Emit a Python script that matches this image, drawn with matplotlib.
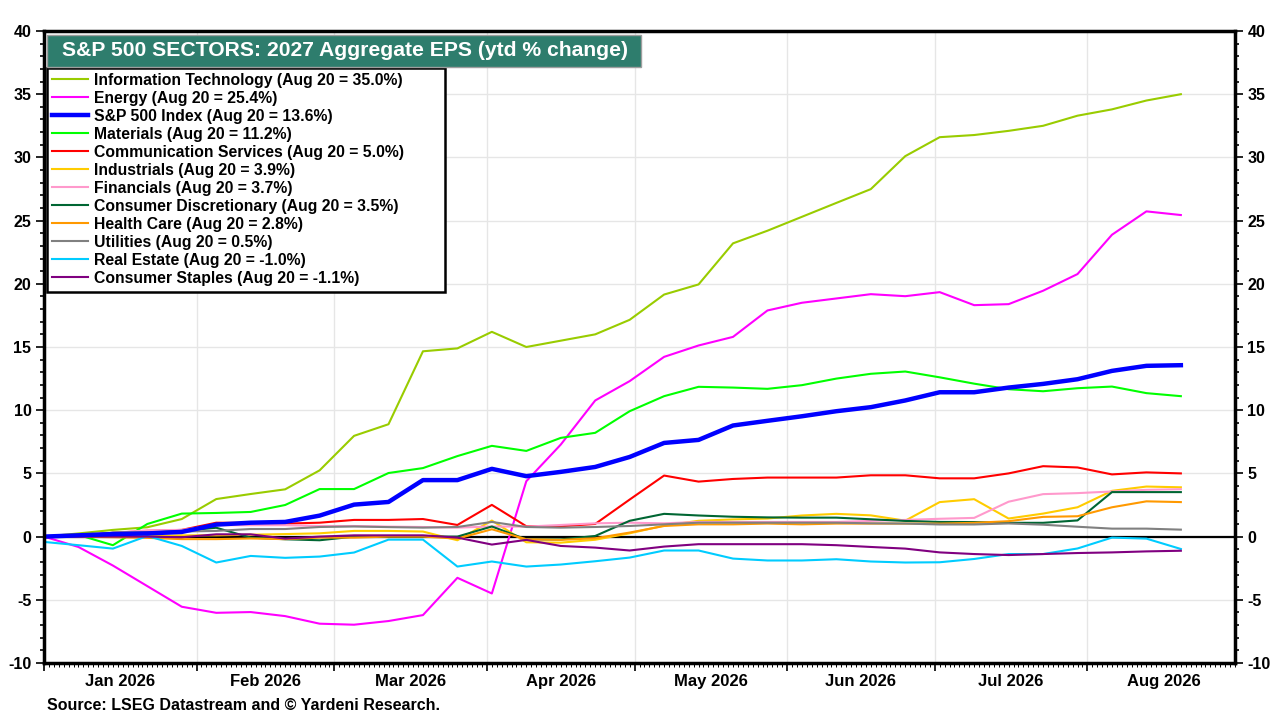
import matplotlib
matplotlib.use("Agg")
import matplotlib.pyplot as plt
import matplotlib.dates as mdates
import matplotlib.transforms as mtransforms
from matplotlib.patches import Rectangle
import pandas as pd

plt.rcParams['font.family'] = ['Liberation Sans', 'DejaVu Sans']
plt.rcParams['font.weight'] = 'bold'
plt.rcParams['axes.unicode_minus'] = False

dates = pd.date_range('2026-01-01', periods=34, freq='7D')

info_tech = [0, 0.25, 0.53, 0.74, 1.39, 2.97, 3.37, 3.74, 5.24, 7.97, 8.89, 14.66, 14.89, 16.2, 15.0,
             15.5, 16.0, 17.15, 19.15, 19.95, 23.2, 24.2, 25.3, 26.4, 27.49, 30.1, 31.6, 31.77, 32.1,
             32.5, 33.3, 33.8, 34.5, 35.0]
energy = [0, -0.82, -2.29, -3.92, -5.55, -6.03, -5.97, -6.29, -6.89, -6.97, -6.68, -6.21, -3.26, -4.5,
          4.38, 7.28, 10.77, 12.3, 14.22, 15.12, 15.8, 17.89, 18.5, 18.84, 19.18, 19.02, 19.34, 18.31,
          18.39, 19.45, 20.77, 23.88, 25.73, 25.44]
sp500 = [0, 0.1, 0.2, 0.25, 0.37, 0.95, 1.1, 1.16, 1.66, 2.53, 2.74, 4.47, 4.47, 5.36, 4.78, 5.12, 5.51,
         6.3, 7.41, 7.65, 8.79, 9.16, 9.52, 9.92, 10.24, 10.77, 11.42, 11.42, 11.79, 12.08, 12.45, 13.11,
         13.51, 13.56]
materials = [0, 0.13, -0.68, 1.0, 1.82, 1.87, 1.95, 2.5, 3.76, 3.76, 5.03, 5.42, 6.37, 7.18, 6.78, 7.81,
             8.21, 9.92, 11.11, 11.85, 11.79, 11.69, 11.98, 12.5, 12.88, 13.06, 12.6, 12.1, 11.66, 11.5,
             11.74, 11.87, 11.35, 11.11]
comm_services = [0, 0.1, 0.3, 0.45, 0.53, 1.1, 1.08, 1.03, 1.1, 1.32, 1.32, 1.39, 0.92, 2.51, 0.82, 0.82,
                 1.0, 2.93, 4.83, 4.35, 4.56, 4.67, 4.67, 4.67, 4.85, 4.85, 4.61, 4.61, 5.0, 5.57, 5.47,
                 4.92, 5.08, 5.0]
industrials = [0, 0, 0, 0.05, 0.1, 0.1, 0.15, 0.2, 0.26, 0.45, 0.45, 0.4, -0.29, 1.27,
               -0.45, -0.48, -0.25, 0.26, 0.87, 1.25, 1.36, 1.43, 1.67, 1.8, 1.68, 1.26, 2.73, 2.96,
               1.43, 1.82, 2.32, 3.62, 3.96, 3.9]
financials = [0, 0.1, 0.3, 0.5, 0.53, 0.9, 0.9, 0.9, 0.84, 0.84, 0.79, 0.76, 0.71, 0.8,
              0.79, 0.92, 1.05, 1.1, 1.05, 1.16, 1.16, 1.16, 1.16, 1.16, 1.24, 1.32, 1.41, 1.48,
              2.76, 3.36, 3.44, 3.57, 3.7, 3.75]
cons_disc = [0, 0.05, 0.3, 0.3, 0.45, 0.7, -0.08, -0.21, -0.29, 0, 0, 0, 0, 0.8,
             -0.22, -0.22, 0.05, 1.25, 1.8, 1.67, 1.57, 1.52, 1.5, 1.5, 1.37, 1.24, 1.16, 1.15,
             1.09, 1.09, 1.28, 3.52, 3.52, 3.52]
health_care = [0, 0, -0.05, -0.1, -0.2, -0.2, -0.15, -0.2, -0.08, -0.08, 0, 0, -0.16, 0.58,
               -0.21, -0.26, -0.13, 0.32, 0.84, 0.97, 0.97, 1.03, 0.97, 1.03, 1.03, 1.03, 1.03, 1.09,
               1.22, 1.56, 1.61, 2.32, 2.79, 2.73]
utilities = [0, 0.05, 0.3, 0.35, 0.4, 0.45, 0.6, 0.6, 0.76, 0.8, 0.75, 0.71, 0.76, 1.16,
             0.76, 0.71, 0.76, 0.84, 0.97, 1.1, 1.1, 1.1, 1.1, 1.1, 1.05, 1.03, 0.96, 0.96,
             1.04, 0.94, 0.78, 0.63, 0.63, 0.55]
real_estate = [-0.42, -0.68, -0.95, 0.05, -0.74, -2.05, -1.53, -1.68, -1.58, -1.26, -0.24, -0.24, -2.37, -1.97,
               -2.37, -2.21, -1.95, -1.66, -1.1, -1.1, -1.74, -1.89, -1.89, -1.79, -1.97, -2.05, -2.03, -1.77,
               -1.38, -1.38, -0.94, -0.08, -0.16, -0.98]
cons_staples = [0, 0, 0, 0, -0.05, 0.18, 0.18, -0.16, 0, 0.1, 0.1, 0.1, -0.08, -0.63,
                -0.26, -0.74, -0.87, -1.1, -0.79, -0.6, -0.6, -0.6, -0.6, -0.68, -0.82, -0.95, -1.25, -1.38,
                -1.46, -1.38, -1.3, -1.25, -1.17, -1.12]

labels = ["Information Technology (Aug 20 = 35.0%)", "Energy (Aug 20 = 25.4%)",
          "S&P 500 Index (Aug 20 = 13.6%)", "Materials (Aug 20 = 11.2%)",
          "Communication Services (Aug 20 = 5.0%)", "Industrials (Aug 20 = 3.9%)",
          "Financials (Aug 20 = 3.7%)", "Consumer Discretionary (Aug 20 = 3.5%)",
          "Health Care (Aug 20 = 2.8%)", "Utilities (Aug 20 = 0.5%)",
          "Real Estate (Aug 20 = -1.0%)", "Consumer Staples (Aug 20 = -1.1%)"]
series = [info_tech, energy, sp500, materials, comm_services, industrials, financials,
          cons_disc, health_care, utilities, real_estate, cons_staples]
colors = ['#99CC00', '#FF00FF', '#0000FF', '#00FF00', '#FF0000', '#FFCC00', '#FF99CC',
          '#006633', '#FF9900', '#808080', '#00CCFF', '#800080']
month_labels = ['Jan 2026', 'Feb 2026', 'Mar 2026', 'Apr 2026', 'May 2026', 'Jun 2026', 'Jul 2026', 'Aug 2026']

fig = plt.figure(figsize=(12.8, 7.2), dpi=100)
ax = fig.add_axes([44/1280, 1-663/720, (1235-44)/1280, (663-31)/720])

ax.axhline(0, color='black', lw=1.6, zorder=2)
handles = []
for s, lab, c in zip(series, labels, colors):
    lw = 3.2 if lab.startswith('S&P') else 1.5
    h, = ax.plot(dates, s, color=c, lw=lw, label=lab, zorder=4 if lab.startswith('S&P') else 3)
    handles.append(h)

ax.set_ylim(-10, 40)
ax.set_xlim(pd.Timestamp('2026-01-01'), pd.Timestamp('2026-08-31'))
ax.set_yticks(range(-10, 41, 5))
ax.set_yticks(range(-10, 41, 1), minor=True)
ax.tick_params(axis='y', which='both', left=True, right=True, labelleft=True, labelright=True,
               direction='out', labelsize=11.5, width=1.2)
ax.tick_params(axis='y', which='major', length=6, pad=3)
ax.tick_params(axis='y', which='minor', length=3)
for t in ax.get_yticklabels():
    t.set_fontweight('bold')

ax.xaxis.set_major_locator(mdates.MonthLocator())
ax.xaxis.set_minor_locator(mdates.DayLocator())
ax.xaxis.set_major_formatter(plt.NullFormatter())
ax.tick_params(axis='x', which='major', length=6, width=1.2, direction='out')
ax.tick_params(axis='x', which='minor', length=3, width=0.7, direction='out')

ax.grid(True, which='major', color='#E6E6E6', lw=1)
ax.set_axisbelow(True)
for sp in ax.spines.values():
    sp.set_linewidth(2.5)
    sp.set_zorder(6)

trans = mtransforms.blended_transform_factory(ax.transData, ax.transAxes)
for i, lab in enumerate(month_labels):
    start = pd.Timestamp(2026, i + 1, 1)
    end = start + pd.offsets.MonthBegin(1)
    mid = start + (end - start) / 2
    ax.text(mdates.date2num(mid), -0.018, lab, transform=trans, ha='center', va='top',
            fontsize=12, fontweight='bold')

# legend frame drawn as a patch (wider than the text, as in the reference)
fig.patches.append(Rectangle((47/1280, 1-292/720), 398/1280, 224/720, transform=fig.transFigure,
                             facecolor='white', edgecolor='black', lw=1.8, zorder=7))
leg = ax.legend(handles=handles, loc='upper left', bbox_to_anchor=(3/1191, (663-68)/632),
                borderaxespad=0, fontsize=11.3, frameon=False,
                handlelength=2.3, handletextpad=0.4, labelspacing=0.19,
                borderpad=0.3)
leg.set_zorder(8)
fig.legends = []
leg.remove()
fig.add_artist(leg)
leg.set_zorder(8)
for t in leg.get_texts():
    t.set_fontweight('bold')

fig.patches.append(Rectangle((47/1280, 1-67/720), 594/1280, 32/720, transform=fig.transFigure,
                             facecolor='#2E7D6D', edgecolor='#9E9E9E', lw=1, zorder=8))
fig.text(345/1280, 1-51/720, 'S&P 500 SECTORS: 2027 Aggregate EPS (ytd % change)', color='white',
         fontsize=15.2, fontweight='bold', ha='center', va='center', zorder=9)

fig.text(47/1280, 1-706/720, 'Source: LSEG Datastream and \u00a9 Yardeni Research.', fontsize=11.5,
         fontweight='bold', ha='left', va='center')

fig.savefig('out.png', dpi=100)
